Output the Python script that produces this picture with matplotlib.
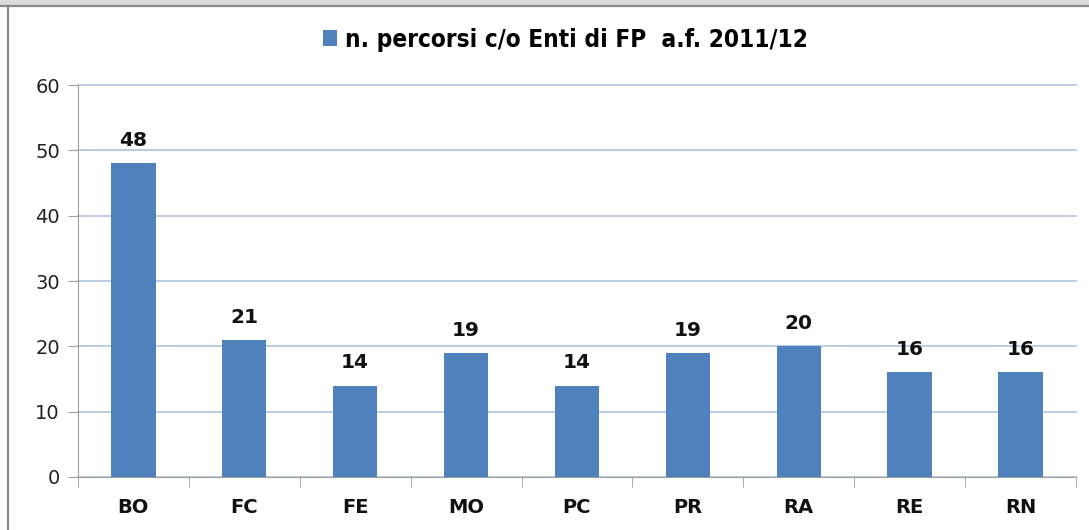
import matplotlib.pyplot as plt
import matplotlib.patches as mpatches
from matplotlib.lines import Line2D
import numpy as np

province = ['BO', 'FC', 'FE', 'MO', 'PC', 'PR', 'RA', 'RE', 'RN']
percorsi = [48, 21, 14, 19, 14, 19, 20, 16, 16]
serie_label = 'n. percorsi c/o Enti di FP  a.f. 2011/12'
y_ticks = [0, 10, 20, 30, 40, 50, 60]

BAR_COLOR = '#4F81BD'
GRID_COLOR = '#B9CDE5'
AXIS_COLOR = '#A0A0A0'

fig = plt.figure(figsize=(10.89, 5.30), dpi=100)
ax = fig.add_axes([0.0716, 0.1, 0.9164, 0.7396])

x = np.arange(len(province))
bars = ax.bar(x, percorsi, width=0.4, color=BAR_COLOR, zorder=3, label=serie_label)

# etichette valori sopra le barre
for xi, v in zip(x, percorsi):
    ax.text(xi, v + 2.0, str(v), ha='center', va='bottom',
            fontsize=14.5, fontweight='bold', color='#111111')

ax.set_xlim(-0.5, len(province) - 0.5)
ax.set_ylim(0, 60)
ax.set_yticks(y_ticks)
ax.set_yticklabels([str(t) for t in y_ticks], fontsize=14, color='#222222')
ax.yaxis.grid(True, color=GRID_COLOR, linewidth=1.4, zorder=0)
for gl in ax.get_ygridlines():
    gl.set_clip_on(False)
ax.set_axisbelow(True)

# tick categorie al centro senza segno, segni ai bordi
ax.set_xticks(x)
ax.set_xticklabels(province, fontsize=14, fontweight='bold', color='#111111')
ax.tick_params(axis='x', length=0, pad=15)
ax.set_xticks(np.arange(-0.5, len(province)), minor=True)
ax.tick_params(axis='x', which='minor', length=7, color=AXIS_COLOR, direction='out')
ax.tick_params(axis='y', length=7, color=AXIS_COLOR, direction='out', pad=6)

for side in ['top', 'right']:
    ax.spines[side].set_visible(False)
ax.spines['left'].set_color(AXIS_COLOR)
ax.spines['bottom'].set_color(AXIS_COLOR)

leg = fig.legend(handles=[bars], labels=[serie_label], loc='center',
                 bbox_to_anchor=(0.519, 0.925), frameon=False,
                 prop={'family': 'DejaVu Sans', 'stretch': 'condensed',
                       'weight': 'bold', 'size': 17.5},
                 handlelength=0.6, handleheight=0.6, handletextpad=0.3)

# cornice dello screenshot
fig.add_artist(mpatches.Rectangle((0, 1 - 5 / 530), 1, 5 / 530, transform=fig.transFigure,
                                  facecolor='#DCDCDC', edgecolor='none', zorder=5))
fig.add_artist(Line2D([0, 1], [1 - 6 / 530, 1 - 6 / 530], transform=fig.transFigure,
                      color='#888888', linewidth=1.6, zorder=6))
fig.add_artist(Line2D([8 / 1089, 8 / 1089], [0, 1 - 6 / 530], transform=fig.transFigure,
                      color='#888888', linewidth=1.6, zorder=6))

fig.savefig('out.png', dpi=100)
